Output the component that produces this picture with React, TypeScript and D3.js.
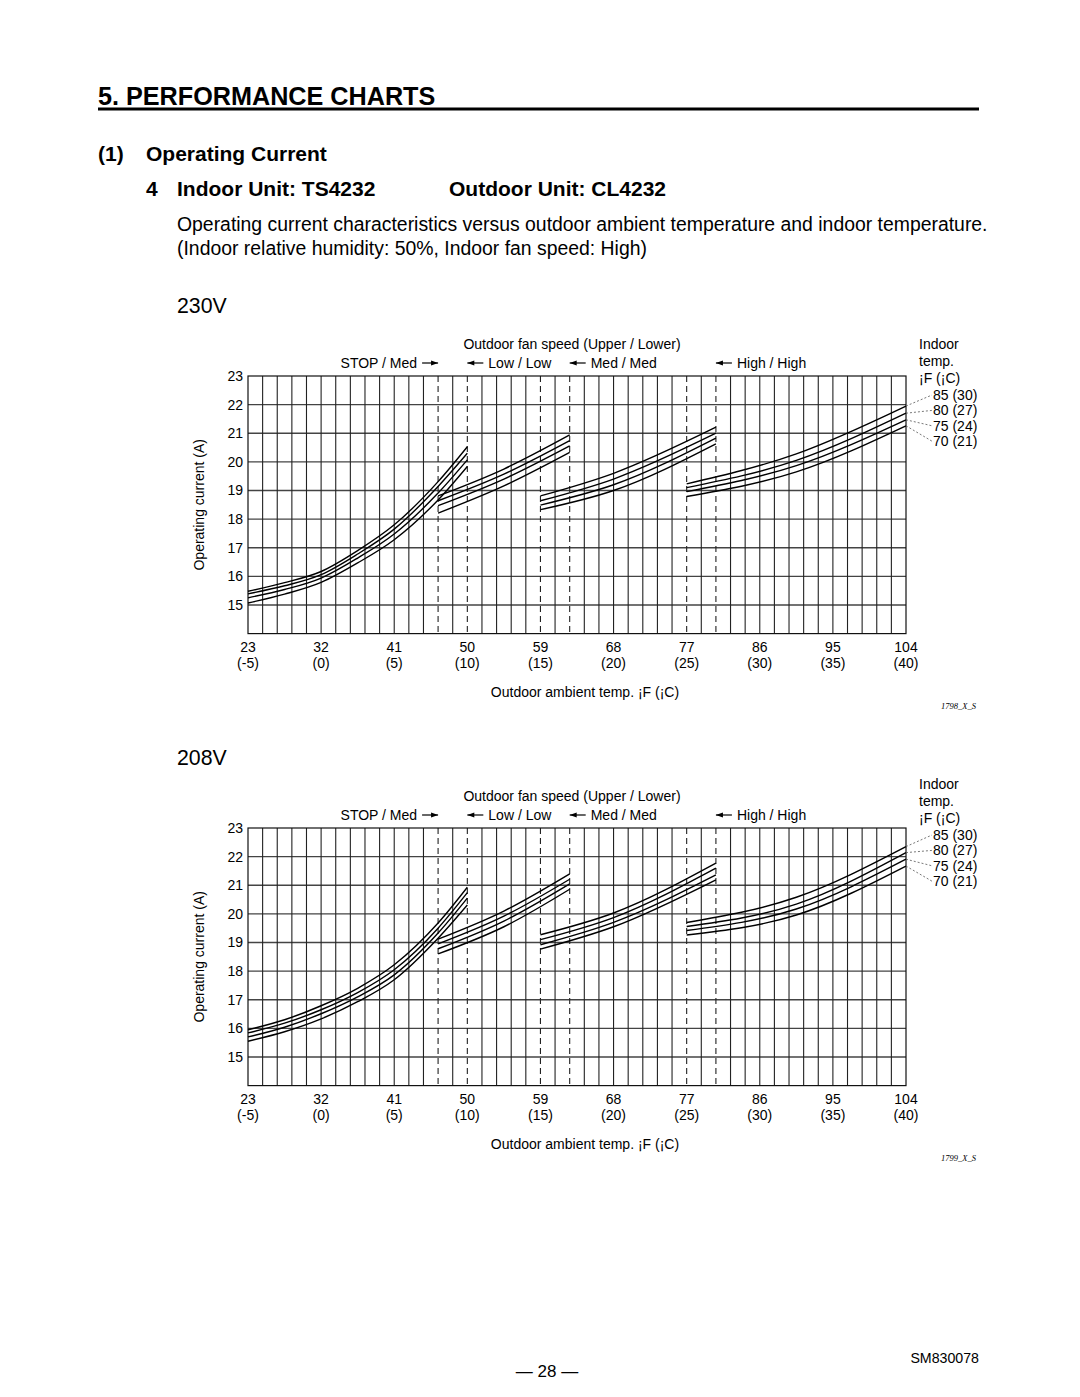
import React from "react";
import * as d3 from "d3";

// axis / labels
const F_TICKS = [23, 32, 41, 50, 59, 68, 77, 86, 95, 104];
const C_TICKS = [-5, 0, 5, 10, 15, 20, 25, 30, 35, 40];
const Y_TICKS = [15, 16, 17, 18, 19, 20, 21, 22, 23];
const INDOOR_LABELS = ["85 (30)", "80 (27)", "75 (24)", "70 (21)"];

// outdoor fan speed change points (deg C), dashed lines
const FAN_BOUNDS = [8, 10, 15, 17, 25, 27];
const FAN_LABELS = ["STOP / Med", "Low / Low", "Med / Med", "High / High"];
const FAN_ARROW_AT = [8, 10, 17, 27];
const FAN_ARROW_DIR = ["right", "left", "left", "left"];

// x positions (deg C) of read points for each fan-speed segment
const STOP_X = [-5, -2.5, 0, 2.5, 5, 8, 10];
const LOW_X = [8, 12.5, 17];
const MED_X = [15, 20, 27];
const HIGH_X = [25, 32.5, 40];

// 230V  rows: indoor 85, 80, 75, 70 F
const V230_STOP = [
  [15.48, 15.78, 16.17, 16.9, 17.8, 19.31, 20.53],
  [15.39, 15.67, 16.06, 16.78, 17.65, 19.14, 20.3],
  [15.25, 15.54, 15.94, 16.64, 17.48, 18.91, 20.07],
  [15.07, 15.38, 15.79, 16.47, 17.28, 18.67, 19.84],
];
const V230_LOW = [
  [18.81, 19.75, 20.94],
  [18.64, 19.57, 20.74],
  [18.47, 19.4, 20.56],
  [18.21, 19.16, 20.33],
];
const V230_MED = [
  [18.81, 19.6, 21.21],
  [18.64, 19.4, 21.0],
  [18.49, 19.2, 20.83],
  [18.33, 19.0, 20.63],
];
const V230_HIGH = [
  [19.23, 20.28, 21.95],
  [19.1, 20.05, 21.7],
  [18.96, 19.87, 21.47],
  [18.79, 19.65, 21.26],
];

// 208V
const V208_STOP = [
  [15.95, 16.3, 16.79, 17.4, 18.22, 19.68, 20.93],
  [15.84, 16.18, 16.65, 17.25, 18.05, 19.5, 20.74],
  [15.7, 16.04, 16.51, 17.1, 17.87, 19.33, 20.55],
  [15.55, 15.88, 16.33, 16.93, 17.7, 19.15, 20.31],
];
const V208_LOW = [
  [19.12, 20.1, 21.4],
  [18.95, 19.92, 21.21],
  [18.78, 19.75, 21.05],
  [18.6, 19.55, 20.86],
];
const V208_MED = [
  [19.27, 20.03, 21.77],
  [19.1, 19.87, 21.6],
  [18.92, 19.7, 21.36],
  [18.77, 19.55, 21.19],
];
const V208_HIGH = [
  [19.7, 20.58, 22.35],
  [19.56, 20.34, 22.14],
  [19.42, 20.17, 21.91],
  [19.26, 19.96, 21.67],
];

const FONT = "'Liberation Sans', Arial, Helvetica, sans-serif";

const PLOT_LEFT = 248;
const PLOT_RIGHT = 906;
const LBL = 14;

type ChartProps = {
  top: number;
  legendTop: number;
  code: string;
  segments: { xs: number[]; rows: number[][] }[];
};

const Chart = ({ top, legendTop, code, segments }: ChartProps) => {
  const x = d3.scaleLinear().domain([-5, 40]).range([PLOT_LEFT, PLOT_RIGHT]);
  const y = d3.scaleLinear().domain([14, 23]).range([top + 257.6, top]);
  const bottom = y(14);

  const line = d3
    .line<[number, number]>()
    .x((d) => x(d[0]))
    .y((d) => y(d[1]))
    .curve(d3.curveMonotoneX);

  const gridC = d3.range(-4, 40);
  const gridY = d3.range(15, 23);

  const highRows = segments[segments.length - 1].rows;

  return (
    <g fontFamily={FONT}>
      {/* horizontal grid */}
      {gridY.map((v) => (
        <line key={"h" + v} x1={PLOT_LEFT} x2={PLOT_RIGHT} y1={y(v)} y2={y(v)} stroke="#444" strokeWidth={1.3} />
      ))}
      {/* vertical grid */}
      {gridC.map((c) => {
        const dashed = FAN_BOUNDS.includes(c);
        return (
          <line
            key={"v" + c}
            x1={x(c)}
            x2={x(c)}
            y1={top}
            y2={bottom}
            stroke="#222"
            strokeWidth={1.1}
            strokeDasharray={dashed ? "6,4" : undefined}
          />
        );
      })}
      <rect x={PLOT_LEFT} y={top} width={PLOT_RIGHT - PLOT_LEFT} height={bottom - top} fill="none" stroke="#111" strokeWidth={1.2} />

      {/* curves */}
      {segments.map((seg, si) =>
        seg.rows.map((row, ri) => (
          <path
            key={si + "-" + ri}
            d={line(seg.xs.map((c, i) => [c, row[i]] as [number, number])) || ""}
            fill="none"
            stroke="#000"
            strokeWidth={1.4}
          />
        ))
      )}

      {/* y ticks */}
      {Y_TICKS.map((v) => (
        <text key={"yt" + v} x={243} y={y(v)} textAnchor="end" dominantBaseline="central" fontSize={LBL}>
          {v}
        </text>
      ))}
      <text
        transform={`translate(199, ${(top + bottom) / 2}) rotate(-90)`}
        textAnchor="middle"
        dominantBaseline="central"
        fontSize={LBL}
      >
        Operating current (A)
      </text>

      {/* x ticks */}
      {F_TICKS.map((f, i) => (
        <g key={"xt" + f}>
          <text x={x(C_TICKS[i])} y={bottom + 13} textAnchor="middle" dominantBaseline="central" fontSize={LBL}>
            {f}
          </text>
          <text x={x(C_TICKS[i])} y={bottom + 29} textAnchor="middle" dominantBaseline="central" fontSize={LBL}>
            ({C_TICKS[i]})
          </text>
        </g>
      ))}
      <text x={585} y={bottom + 58} textAnchor="middle" dominantBaseline="central" fontSize={LBL}>
        Outdoor ambient temp. ¡F (¡C)
      </text>
      <text x={976} y={bottom + 72} textAnchor="end" dominantBaseline="central" fontSize={8.5} fontStyle="italic" fontFamily="'Liberation Serif', serif">
        {code}
      </text>

      {/* fan speed header */}
      <text x={572} y={top - 32} textAnchor="middle" dominantBaseline="central" fontSize={LBL}>
        Outdoor fan speed (Upper / Lower)
      </text>
      {FAN_LABELS.map((lab, i) => {
        const tip = x(FAN_ARROW_AT[i]);
        const ly = top - 13;
        const right = FAN_ARROW_DIR[i] === "right";
        const tail = right ? tip - 16 : tip + 16;
        const head = right ? tip - 7 : tip + 7;
        return (
          <g key={"fan" + i}>
            <line x1={tail} x2={tip} y1={ly} y2={ly} stroke="#000" strokeWidth={1.2} />
            <polygon points={`${tip},${ly} ${head},${ly - 2.5} ${head},${ly + 2.5}`} fill="#000" />
            <text
              x={right ? tail - 5 : tail + 5}
              y={ly}
              textAnchor={right ? "end" : "start"}
              dominantBaseline="central"
              fontSize={LBL}
            >
              {lab}
            </text>
          </g>
        );
      })}

      {/* indoor temp legend */}
      <text x={919} y={legendTop} dominantBaseline="central" fontSize={LBL}>Indoor</text>
      <text x={919} y={legendTop + 17} dominantBaseline="central" fontSize={LBL}>temp.</text>
      <text x={919} y={legendTop + 34} dominantBaseline="central" fontSize={LBL}>¡F (¡C)</text>
      {INDOOR_LABELS.map((lab, i) => {
        const ly = legendTop + 51 + i * 15.4;
        const endV = highRows[i][highRows[i].length - 1];
        return (
          <g key={"ind" + i}>
            <line x1={PLOT_RIGHT} y1={y(endV)} x2={932} y2={ly} stroke="#555" strokeWidth={0.8} strokeDasharray="2,2" />
            <text x={933} y={ly} dominantBaseline="central" fontSize={LBL}>
              {lab}
            </text>
          </g>
        );
      })}
    </g>
  );
};

export default function App() {
  return (
    <svg
      width={1080}
      height={1397}
      style={{ position: "absolute", left: 0, top: 0, background: "#fff" }}
      fontFamily={FONT}
    >
      <rect width={1080} height={1397} fill="#fff" />
      <text x={98} y={96} fontSize={25.2} fontWeight="bold" dominantBaseline="central">
        5. PERFORMANCE CHARTS
      </text>
      <line x1={98} x2={979} y1={109} y2={109} stroke="#000" strokeWidth={3} />

      <text x={98} y={153} fontSize={21} fontWeight="bold" dominantBaseline="central">(1)</text>
      <text x={146} y={153} fontSize={21} fontWeight="bold" dominantBaseline="central">Operating Current</text>
      <text x={146} y={188} fontSize={21} fontWeight="bold" dominantBaseline="central">4</text>
      <text x={177} y={188} fontSize={21} fontWeight="bold" dominantBaseline="central">Indoor Unit: TS4232</text>
      <text x={449} y={188} fontSize={21} fontWeight="bold" dominantBaseline="central">Outdoor Unit: CL4232</text>

      <text x={177} y={224} fontSize={19.4} dominantBaseline="central">
        Operating current characteristics versus outdoor ambient temperature and indoor temperature.
      </text>
      <text x={177} y={248} fontSize={19.4} dominantBaseline="central">
        (Indoor relative humidity: 50%, Indoor fan speed: High)
      </text>

      <text x={177} y={306} fontSize={21.3} dominantBaseline="central">230V</text>
      <Chart
        top={376}
        legendTop={344}
        code="1798_X_S"
        segments={[
          { xs: STOP_X, rows: V230_STOP },
          { xs: LOW_X, rows: V230_LOW },
          { xs: MED_X, rows: V230_MED },
          { xs: HIGH_X, rows: V230_HIGH },
        ]}
      />

      <text x={177} y={758} fontSize={21.3} dominantBaseline="central">208V</text>
      <Chart
        top={828}
        legendTop={784}
        code="1799_X_S"
        segments={[
          { xs: STOP_X, rows: V208_STOP },
          { xs: LOW_X, rows: V208_LOW },
          { xs: MED_X, rows: V208_MED },
          { xs: HIGH_X, rows: V208_HIGH },
        ]}
      />

      <text x={547} y={1371} fontSize={17} textAnchor="middle" dominantBaseline="central">
        — 28 —
      </text>
      <text x={979} y={1358} fontSize={14.2} textAnchor="end" dominantBaseline="central">
        SM830078
      </text>
    </svg>
  );
}
